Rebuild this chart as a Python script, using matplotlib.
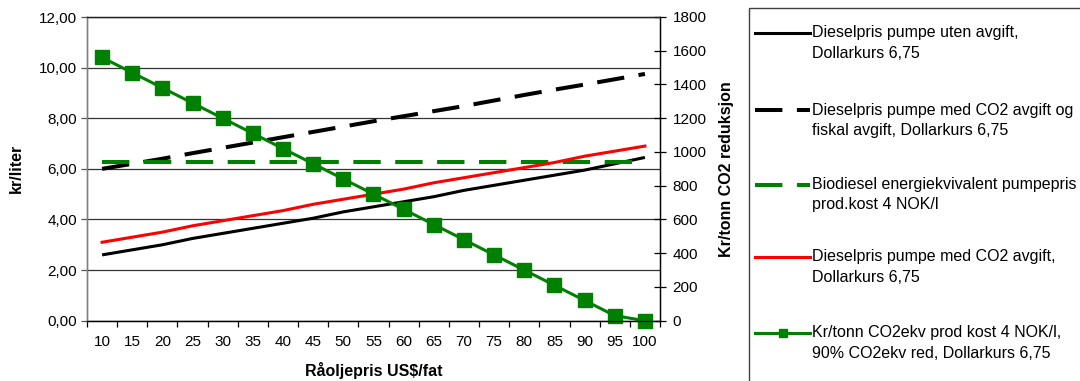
import numpy as np
import matplotlib
matplotlib.use("Agg")
import matplotlib.pyplot as plt
from matplotlib.lines import Line2D
from matplotlib.patches import Rectangle
from matplotlib.ticker import FuncFormatter, FixedLocator

plt.rcParams['font.family'] = ['Liberation Sans', 'DejaVu Sans']
plt.rcParams['font.size'] = 11

# data
oil_price = [10, 15, 20, 25, 30, 35, 40, 45, 50, 55, 60, 65, 70, 75, 80, 85, 90, 95, 100]
diesel_no_tax = [2.60, 2.80, 3.00, 3.25, 3.45, 3.65, 3.85, 4.05, 4.30, 4.50,
                 4.70, 4.90, 5.15, 5.35, 5.55, 5.75, 5.95, 6.20, 6.45]
diesel_co2_fiscal = [6.00, 6.20, 6.40, 6.62, 6.83, 7.04, 7.25, 7.46, 7.67, 7.88,
                     8.08, 8.28, 8.48, 8.70, 8.92, 9.13, 9.33, 9.54, 9.75]
biodiesel_equiv = [6.27] * 19
diesel_co2 = [3.10, 3.30, 3.50, 3.75, 3.95, 4.15, 4.35, 4.60, 4.80, 5.00,
              5.20, 5.45, 5.65, 5.85, 6.05, 6.25, 6.50, 6.70, 6.90]
kr_per_tonn = [1560, 1470, 1380, 1290, 1200, 1110, 1020, 930, 840, 750,
               660, 570, 480, 390, 300, 210, 120, 30, 0]

labels = ["Dieselpris pumpe uten avgift,\nDollarkurs 6,75",
          "Dieselpris pumpe med CO2 avgift og\nfiskal avgift, Dollarkurs 6,75",
          "Biodiesel energiekvivalent pumpepris\nprod.kost 4 NOK/l",
          "Dieselpris pumpe med CO2 avgift,\nDollarkurs 6,75",
          "Kr/tonn CO2ekv prod kost 4 NOK/l,\n90% CO2ekv red, Dollarkurs 6,75"]

W, H = 1080, 381
fig = plt.figure(figsize=(W / 100, H / 100), dpi=100)

def px(x0, y0, x1, y1):
    return [x0 / W, 1 - y1 / H, (x1 - x0) / W, (y1 - y0) / H]

ax = fig.add_axes(px(87, 17, 660, 320.7))
ax2 = ax.twinx()

x = np.arange(len(oil_price))
green = '#008000'

h1, = ax.plot(x, diesel_no_tax, color='black', lw=2.2, solid_capstyle='butt')
h2, = ax.plot(x, diesel_co2_fiscal, color='black', lw=2.9, dashes=(6.8, 3.6))
h3, = ax.plot(x, biodiesel_equiv, color=green, lw=2.9, dashes=(6.8, 3.6))
h4, = ax.plot(x, diesel_co2, color='#ff0000', lw=2.2)
h5, = ax2.plot(x, kr_per_tonn, color=green, lw=2.2, marker='s', markersize=10,
               markeredgecolor=green, markerfacecolor=green, clip_on=False)

# left axis
ax.set_xlim(-0.5, len(oil_price) - 0.5)
ax.set_ylim(0, 12)
ax.set_yticks(np.arange(0, 13, 2))
ax.yaxis.set_major_formatter(FuncFormatter(lambda v, p: f"{v:.2f}".replace('.', ',')))
ax.yaxis.grid(True, color='#333333', lw=0.9)
ax.set_axisbelow(True)
ax.tick_params(axis='y', length=4, width=0.9, color='#555555', pad=3, labelsize=11)
ax.set_ylabel("kr/liter", fontweight='bold', fontsize=11.5, labelpad=11)

ax.set_xticks(x)
ax.set_xticklabels([str(v) for v in oil_price])
ax.xaxis.set_minor_locator(FixedLocator(np.arange(-0.5, len(oil_price), 1)))
ax.tick_params(axis='x', which='major', length=0, pad=10, labelsize=11)
ax.tick_params(axis='x', which='minor', length=4, width=0.9, color='black')
ax.set_xlabel("Råoljepris US$/fat", fontweight='bold', fontsize=11.5, labelpad=10)

for a in (ax, ax2):
    a.spines['top'].set_color('#222222')
    a.spines['top'].set_linewidth(0.9)
    a.spines['left'].set_color('#808080')
    a.spines['left'].set_linewidth(1.0)
    a.spines['right'].set_color('black')
    a.spines['right'].set_linewidth(0.9)
    a.spines['bottom'].set_color('black')
    a.spines['bottom'].set_linewidth(0.9)

# right axis
ax2.set_ylim(0, 1800)
ax2.set_yticks(np.arange(0, 1801, 200))
ax2.tick_params(axis='y', direction='inout', length=8, width=0.9, pad=5, labelsize=11)
ax2.set_ylabel("Kr/tonn CO2 reduksjon", fontweight='bold', fontsize=11.5, labelpad=9)

# legend drawn by hand, Excel style
fig.add_artist(Rectangle((749 / W, 1 - 395 / H), 340 / W, 387 / H,
                         transform=fig.transFigure, fill=False,
                         edgecolor='#404040', lw=1.0))
handles = [h1, h2, h3, h4, h5]
rows = [33, 110, 185, 257, 333]
for h, lab, yy in zip(handles, labels, rows):
    yf = 1 - yy / H
    ln = Line2D([755 / W, 810 / W], [yf, yf], transform=fig.transFigure,
                color=h.get_color(), lw=h.get_linewidth())
    if h is h2 or h is h3:
        ln = Line2D([755 / W, 787 / W, 797 / W, 810 / W], [yf] * 4, transform=fig.transFigure,
                    color=h.get_color(), lw=h.get_linewidth())
        ln.set_dashes((6.8, 3.6))
    fig.add_artist(ln)
    if h is h5:
        fig.add_artist(Line2D([782.5 / W], [yf], transform=fig.transFigure, color=green,
                              marker='s', markersize=6, lw=0))
    first, second = lab.split("\n")
    fig.text(812.5 / W, yf, first, va='center', ha='left', fontsize=11.5)
    fig.text(812.5 / W, 1 - (yy + 20) / H, second, va='center', ha='left', fontsize=11.5)

fig.savefig("out.png", dpi=100)
